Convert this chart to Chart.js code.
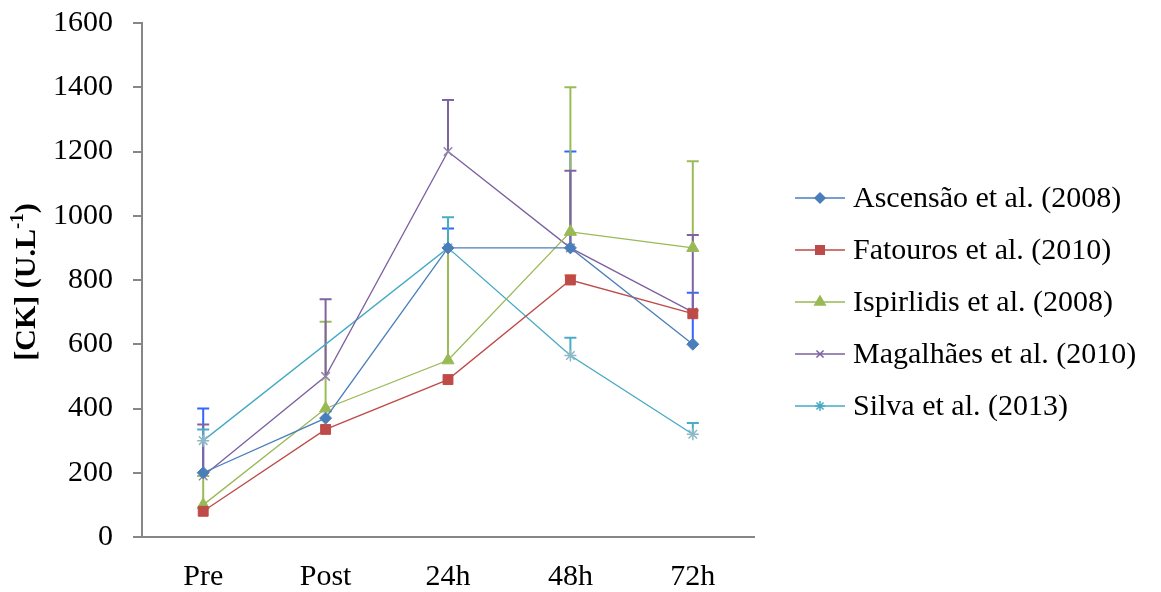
<!DOCTYPE html>
<html>
<head>
<meta charset="utf-8">
<script src="https://cdn.jsdelivr.net/npm/chart.js@4"></script>
<style>
    body { margin: 0; background: #fff; }
    #ckChart { display: block; }
</style>
</head>
<body>
<canvas id="ckChart" width="1161" height="592"></canvas>
<script>
// Timepoints
const timepoints = ['Pre', 'Post', '24h', '48h', '72h'];

// Study names
const studies = ['Ascensão et al. (2008)', 'Fatouros et al. (2010)', 'Ispirlidis et al. (2008)', 'Magalhães et al. (2010)', 'Silva et al. (2013)'];

// Mean CK values (U.L-1)
const ascensao = [200, 370, 900, 900, 600];
const fatouros = [80, 335, 490, 800, 695];
const ispirlidis = [100, 400, 550, 950, 900];
const magalhaes = [190, 500, 1200, 900, 700];
const silva = [300, null, 900, 565, 320];

// Upper error bars (+SD)
const ascensaoErr = [200, null, 60, 300, 160];
const fatourosErr = [null, null, null, 15, 10];
const ispirlidisErr = [90, 270, 350, 450, 270];
const magalhaesErr = [160, 240, 160, 240, 240];
const silvaErr = [35, null, 95, 55, 35];

const yTicks = [0, 200, 400, 600, 800, 1000, 1200, 1400, 1600];

const FONT = "'Liberation Serif', 'Times New Roman', serif";
const AXIS_GREY = '#868686';

const styles = [
    { line: '#4A7EBB', err: '#3366FF', point: 'rectRot', radius: 6, legendRadius: 5 },
    { line: '#BE4B48', err: '#F79646', point: 'rect', radius: 7, legendRadius: 6 },
    { line: '#98B954', err: '#9BBB59', point: 'triangle', radius: 7, legendRadius: 6 },
    { line: '#7D60A0', err: '#8064A2', point: 'crossRot', radius: 6, legendRadius: 5 },
    { line: '#46AAC5', err: '#4BACC6', point: 'star', radius: 6, legendRadius: 5 }
];

const seriesValues = [ascensao, fatouros, ispirlidis, magalhaes, silva];
const seriesErrors = [ascensaoErr, fatourosErr, ispirlidisErr, magalhaesErr, silvaErr];

const datasets = studies.map((name, i) => ({
    label: name,
    data: seriesValues[i],
    errPlus: seriesErrors[i],
    errColor: styles[i].err,
    borderColor: styles[i].line,
    backgroundColor: styles[i].line,
    borderWidth: 1.3,
    pointStyle: styles[i].point,
    pointRadius: styles[i].radius,
    pointBorderWidth: styles[i].point === 'crossRot' || styles[i].point === 'star' ? 1.5 : 1,
    pointBorderColor: styles[i].point === 'crossRot' ? '#9386a8' : (styles[i].point === 'star' ? '#8fb8c6' : styles[i].line),
    legendRadius: styles[i].legendRadius,
    spanGaps: true,
    tension: 0
}));

// Upper error bars drawn from the y scale
const errorBars = {
    id: 'errorBars',
    beforeDatasetsDraw(chart) {
        const ctx = chart.ctx;
        const yScale = chart.scales.y;
        chart.data.datasets.forEach((ds, i) => {
            const meta = chart.getDatasetMeta(i);
            ds.data.forEach((v, j) => {
                const e = ds.errPlus[j];
                if (v == null || e == null) return;
                const x = meta.data[j].x;
                const y0 = yScale.getPixelForValue(v);
                const y1 = yScale.getPixelForValue(v + e);
                ctx.save();
                ctx.strokeStyle = ds.errColor;
                ctx.lineWidth = 2;
                ctx.beginPath();
                ctx.moveTo(x, y0);
                ctx.lineTo(x, y1);
                ctx.moveTo(x - 6, y1);
                ctx.lineTo(x + 6, y1);
                ctx.stroke();
                ctx.restore();
            });
        });
    }
};

// Rotated y title with superscript, and the legend on the right
const extras = {
    id: 'extras',
    afterDraw(chart) {
        const ctx = chart.ctx;
        const area = chart.chartArea;

        // y axis title
        ctx.save();
        ctx.translate(27, (area.top + area.bottom) / 2 + 2);
        ctx.rotate(-Math.PI / 2);
        ctx.fillStyle = '#000';
        ctx.textBaseline = 'middle';
        const main = '[CK] (U.L';
        const sup = '-1';
        const tail = ')';
        ctx.font = 'bold 30px ' + FONT;
        const wMain = ctx.measureText(main).width;
        const wTail = ctx.measureText(tail).width;
        ctx.font = 'bold 19px ' + FONT;
        const wSup = ctx.measureText(sup).width;
        let x = -(wMain + wSup + wTail) / 2;
        ctx.font = 'bold 30px ' + FONT;
        ctx.textAlign = 'left';
        ctx.fillText(main, x, 0);
        x += wMain;
        ctx.font = 'bold 19px ' + FONT;
        ctx.fillText(sup, x, -9);
        x += wSup;
        ctx.font = 'bold 30px ' + FONT;
        ctx.fillText(tail, x, 0);
        ctx.restore();

        // legend
        const lx = area.right + 41;
        let ly = 198;
        chart.data.datasets.forEach(ds => {
            ctx.save();
            ctx.strokeStyle = ds.borderColor;
            ctx.lineWidth = 1.5;
            ctx.beginPath();
            ctx.moveTo(lx, ly);
            ctx.lineTo(lx + 50, ly);
            ctx.stroke();
            ctx.fillStyle = ds.borderColor;
            ctx.strokeStyle = ds.borderColor;
            Chart.helpers.drawPoint(ctx, {
                pointStyle: ds.pointStyle,
                radius: ds.legendRadius,
                borderWidth: 1,
                rotation: 0
            }, lx + 25, ly);
            ctx.fillStyle = '#000';
            ctx.font = '30px ' + FONT;
            ctx.textAlign = 'left';
            ctx.textBaseline = 'middle';
            ctx.fillText(ds.label, lx + 58, ly + 1);
            ctx.restore();
            ly += 52;
        });
    }
};

new Chart(document.getElementById('ckChart'), {
    type: 'line',
    data: { labels: timepoints, datasets: datasets },
    options: {
        responsive: false,
        animation: false,
        layout: { padding: { top: 23, right: 407, left: 0, bottom: 0 } },
        plugins: {
            legend: { display: false },
            tooltip: { enabled: false }
        },
        scales: {
            x: {
                offset: true,
                grid: { display: false, drawTicks: false },
                border: { display: true, color: AXIS_GREY, width: 2 },
                ticks: { color: '#000', font: { family: FONT, size: 30 }, padding: 22 },
                afterFit: s => { s.height = 55; }
            },
            y: {
                min: 0,
                max: 1600,
                afterBuildTicks: s => { s.ticks = yTicks.map(v => ({ value: v })); },
                grid: { drawOnChartArea: false, drawTicks: true, tickLength: 9, color: AXIS_GREY, lineWidth: 2 },
                border: { display: true, color: AXIS_GREY, width: 2 },
                ticks: { color: '#000', font: { family: FONT, size: 30 }, padding: 20, callback: v => String(v) },
                afterFit: s => { s.width = 142; s.paddingTop = 0; s.paddingBottom = 0; }
            }
        }
    },
    plugins: [errorBars, extras]
});
</script>
</body>
</html>
